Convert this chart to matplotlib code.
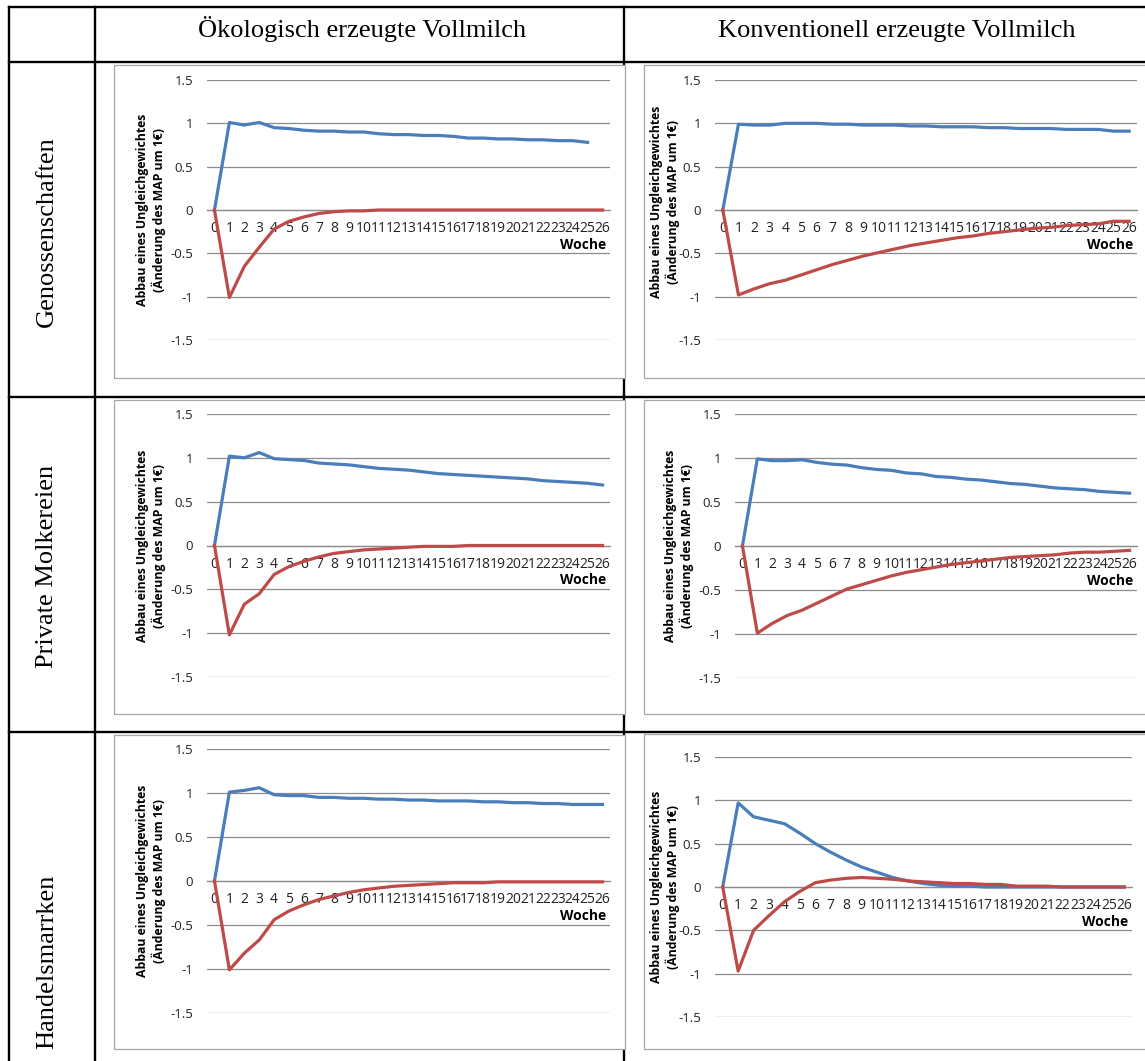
import matplotlib
matplotlib.use("Agg")
import matplotlib.pyplot as plt
from matplotlib.lines import Line2D
from matplotlib.patches import Rectangle

# =========================
# Data
# =========================
weeks = list(range(27))
week_labels = [str(w) for w in weeks]
y_ticks = [-1.5, -1.0, -0.5, 0.0, 0.5, 1.0, 1.5]
y_tick_labels = ["-1.5", "-1", "-0.5", "0", "0.5", "1", "1.5"]

col_titles = ["Ökologisch erzeugte Vollmilch", "Konventionell erzeugte Vollmilch"]
row_titles = ["Genossenschaften", "Private Molkereien", "Handelsmarrken"]
y_label = "Abbau eines Ungleichgewichtes\n(Änderung des MAP um 1€)"
x_label = "Woche"

# Genossenschaften, ökologisch (blue series stops at week 25)
geno_oeko_s1 = [0, 1.01, 0.98, 1.01, 0.95, 0.94, 0.92, 0.91, 0.91, 0.90, 0.90, 0.88, 0.87,
                0.87, 0.86, 0.86, 0.85, 0.83, 0.83, 0.82, 0.82, 0.81, 0.81, 0.80, 0.80, 0.78]
geno_oeko_s2 = [0, -1.01, -0.65, -0.43, -0.22, -0.13, -0.08, -0.04, -0.02, -0.01, -0.01, 0, 0,
                0, 0, 0, 0, 0, 0, 0, 0, 0, 0, 0, 0, 0, 0]

# Genossenschaften, konventionell
geno_konv_s1 = [0, 0.99, 0.98, 0.98, 1.00, 1.00, 1.00, 0.99, 0.99, 0.98, 0.98, 0.98, 0.97,
                0.97, 0.96, 0.96, 0.96, 0.95, 0.95, 0.94, 0.94, 0.94, 0.93, 0.93, 0.93, 0.91, 0.91]
geno_konv_s2 = [0, -0.98, -0.91, -0.85, -0.81, -0.75, -0.69, -0.63, -0.58, -0.53, -0.49, -0.45,
                -0.41, -0.38, -0.35, -0.32, -0.30, -0.27, -0.25, -0.23, -0.21, -0.20, -0.18,
                -0.17, -0.16, -0.13, -0.13]

# Private Molkereien, ökologisch
priv_oeko_s1 = [0, 1.02, 1.00, 1.06, 0.99, 0.98, 0.97, 0.94, 0.93, 0.92, 0.90, 0.88, 0.87,
                0.86, 0.84, 0.82, 0.81, 0.80, 0.79, 0.78, 0.77, 0.76, 0.74, 0.73, 0.72, 0.71, 0.69]
priv_oeko_s2 = [0, -1.02, -0.67, -0.55, -0.33, -0.24, -0.18, -0.13, -0.09, -0.07, -0.05, -0.04,
                -0.03, -0.02, -0.01, -0.01, -0.01, 0, 0, 0, 0, 0, 0, 0, 0, 0, 0]

# Private Molkereien, konventionell
priv_konv_s1 = [0, 0.99, 0.97, 0.97, 0.98, 0.95, 0.93, 0.92, 0.89, 0.87, 0.86, 0.83, 0.82,
                0.79, 0.78, 0.76, 0.75, 0.73, 0.71, 0.70, 0.68, 0.66, 0.65, 0.64, 0.62, 0.61, 0.60]
priv_konv_s2 = [0, -0.99, -0.88, -0.79, -0.73, -0.65, -0.57, -0.49, -0.44, -0.39, -0.34, -0.30,
                -0.27, -0.24, -0.21, -0.19, -0.17, -0.15, -0.13, -0.12, -0.11, -0.10, -0.08,
                -0.07, -0.07, -0.06, -0.05]

# Handelsmarken, ökologisch
hand_oeko_s1 = [0, 1.01, 1.03, 1.06, 0.98, 0.97, 0.97, 0.95, 0.95, 0.94, 0.94, 0.93, 0.93,
                0.92, 0.92, 0.91, 0.91, 0.91, 0.90, 0.90, 0.89, 0.89, 0.88, 0.88, 0.87, 0.87, 0.87]
hand_oeko_s2 = [0, -1.01, -0.82, -0.67, -0.44, -0.34, -0.27, -0.21, -0.17, -0.13, -0.10, -0.08,
                -0.06, -0.05, -0.04, -0.03, -0.02, -0.02, -0.02, -0.01, -0.01, -0.01, -0.01,
                -0.01, -0.01, -0.01, -0.01]

# Handelsmarken, konventionell
hand_konv_s1 = [0, 0.97, 0.81, 0.77, 0.73, 0.62, 0.50, 0.40, 0.31, 0.23, 0.17, 0.11, 0.07,
                0.04, 0.02, 0.01, 0.01, 0, 0, 0, 0, 0, 0, 0, 0, 0, 0]
hand_konv_s2 = [0, -0.97, -0.50, -0.33, -0.17, -0.05, 0.05, 0.08, 0.10, 0.11, 0.10, 0.09, 0.07,
                0.06, 0.05, 0.04, 0.04, 0.03, 0.03, 0.01, 0.01, 0.01, 0, 0, 0, 0, 0]

# =========================
# Layout (pixels of the 1145x1061 canvas)
# =========================
W, H = 1145, 1061
BLUE = "#4A7EBB"
RED = "#BE4B48"
GRID = "#8c8c8c"

plt.rcParams["font.family"] = ["Open Sans", "DejaVu Sans"]
SERIF = ["Liberation Serif", "DejaVu Serif"]

fig = plt.figure(figsize=(W / 100, H / 100), dpi=100)


def fx(x):
    return x / W


def fy(y):
    return 1 - y / H


def hline(x0, x1, y):
    fig.add_artist(Line2D([fx(x0), fx(x1)], [fy(y), fy(y)], color="black", lw=1.7,
                          transform=fig.transFigure, zorder=-3))


def vline(x, y0, y1):
    fig.add_artist(Line2D([fx(x), fx(x)], [fy(y0), fy(y1)], color="black", lw=1.7,
                          transform=fig.transFigure, zorder=-3))


# table grid
for y in [7, 62, 397, 732]:
    hline(9, W + 5, y)
for x in [9, 95, 624]:
    vline(x, 7, H + 5)

# column / row headings
fig.text(fx(362), fy(37), col_titles[0], family=SERIF, fontsize=19, ha="center", va="baseline")
fig.text(fx(897), fy(37), col_titles[1], family=SERIF, fontsize=19, ha="center", va="baseline")
for label, yc in zip(row_titles, [232, 566, 962]):
    fig.text(fx(47), fy(yc), label, family=SERIF, fontsize=19, rotation=90,
             ha="center", va="center")

panels = [
    # series1, series2, axes box, frame box, ylabel offset, ylabel y
    (geno_oeko_s1, geno_oeko_s2, (207, 80, 610, 340), (114, 65, 625, 378), 56, 0.5),
    (geno_konv_s1, geno_konv_s2, (715, 80, 1137, 340), (644, 65, 1160, 378), 50, 0.53),
    (priv_oeko_s1, priv_oeko_s2, (207, 414, 610, 677), (114, 400, 625, 714), 56, 0.5),
    (priv_konv_s1, priv_konv_s2, (735, 414, 1137, 678), (644, 400, 1160, 714), 56, 0.5),
    (hand_oeko_s1, hand_oeko_s2, (207, 749, 610, 1013), (114, 735, 625, 1049), 56, 0.5),
    (hand_konv_s1, hand_konv_s2, (715, 757, 1132, 1017), (644, 734, 1160, 1049), 50, 0.5),
]

for s1, s2, (ax0, ay0, ax1, ay1), (bx0, by0, bx1, by1), yoff, ylab_y in panels:
    # chart frame (white, covers the table divider like the pasted charts)
    fig.add_artist(Rectangle((fx(bx0), fy(by1)), (bx1 - bx0) / W, (by1 - by0) / H,
                             transform=fig.transFigure, facecolor="white",
                             edgecolor="#a6a6a6", lw=0.9, zorder=-2))

    ax = fig.add_axes([fx(ax0), fy(ay1), (ax1 - ax0) / W, (ay1 - ay0) / H])
    ax.patch.set_alpha(0)

    ax.plot(weeks[:len(s1)], s1, color=BLUE, lw=2.3, solid_joinstyle="round", zorder=3)
    ax.plot(weeks[:len(s2)], s2, color=RED, lw=2.3, solid_joinstyle="round", zorder=3)

    ax.set_xlim(-0.5, 26.5)
    ax.set_ylim(-1.5, 1.5)
    ax.set_yticks(y_ticks)
    ax.set_yticklabels(y_tick_labels)
    ax.set_xticks(weeks)
    ax.set_xticklabels(week_labels)
    ax.yaxis.grid(True, color=GRID, lw=0.9)
    ax.set_axisbelow(True)

    for side in ["top", "right", "left"]:
        ax.spines[side].set_visible(False)
    ax.spines["bottom"].set_position(("data", 0))
    ax.spines["bottom"].set_color(GRID)
    ax.spines["bottom"].set_linewidth(0.9)

    ax.tick_params(axis="y", length=0, pad=10, labelsize=9.5, labelcolor="#222222")
    ax.tick_params(axis="x", length=0, pad=8, labelsize=10, labelcolor="#222222")

    ax.text(-yoff / (ax1 - ax0), ylab_y, y_label, transform=ax.transAxes, rotation=90,
            ha="center", va="center", fontsize=8.8, weight="bold", linespacing=1.2)
    ax.annotate(x_label, xy=(1, 0), xycoords=("axes fraction", "data"),
                xytext=(-4, -35), textcoords="offset pixels", ha="right", va="center",
                fontsize=10, weight="bold")

fig.savefig("out.png", dpi=100)
plt.close(fig)
